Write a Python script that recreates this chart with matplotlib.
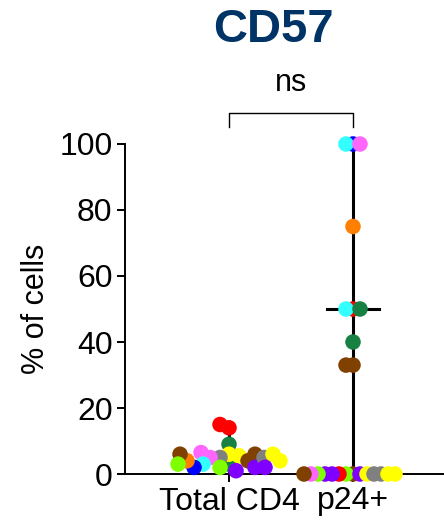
import numpy as np
import matplotlib.pyplot as plt

plt.rcParams['font.family'] = ['Liberation Sans', 'DejaVu Sans']

# data
groups = ['Total CD4', 'p24+']
total_vals = [14, 15, 9, 3, 6, 5, 5.5, 5, 2, 4, 6, 6.5, 3, 1, 2, 2, 5, 4, 6, 6, 2, 4, 3]
total_cols = ['#ff0000', '#ff0000', '#178043', '#178043', '#ffff00', '#808080', '#ffff00',
              '#ff66ff', '#80ff00', '#804000', '#804000', '#ff66ff', '#33ffff', '#8000ff',
              '#8000ff', '#0000ff', '#808080', '#ff8000', '#ffff00', '#804000', '#8000ff',
              '#ffff00', '#80ff00']
p24_vals = [100, 100, 100, 75, 50, 50, 50, 40, 33, 33,
            0, 0, 0, 0, 0, 0, 0, 0, 0, 0, 0, 0, 0, 0]
p24_cols = ['#0000ff', '#33ffff', '#ff66ff', '#ff8000', '#ff0000', '#33ffff', '#178043',
            '#178043', '#804000', '#804000',
            '#804000', '#80ff00', '#8000ff', '#ff0000', '#ffff00', '#8000ff', '#808080',
            '#8000ff', '#808080', '#80ff00', '#ffff00', '#ff66ff', '#ffff00', '#804000']
medians = [4, 50]

fig = plt.figure(figsize=(4.44, 5.21), dpi=100)
ax = fig.add_axes([125 / 444, 47 / 521, 319 / 444, 330 / 521])
ax.set_xlim(-0.839, 1.734)
ax.set_ylim(0, 100)


def swarm(vals, mind=7.0):
    # simple beeswarm in pixel units
    px_x = 124.0
    px_y = 3.3
    placed = []
    offs = []
    for v in vals:
        y = v * px_y
        k = 0
        while True:
            for o in ([0] if k == 0 else [-k, k]):
                if all((o - px) ** 2 + (y - py) ** 2 >= mind ** 2 for px, py in placed):
                    break
            else:
                k += 1
                continue
            break
        placed.append((o, y))
        offs.append(o / px_x)
    return np.array(offs)


# median + range
for i, vals in enumerate([total_vals, p24_vals]):
    ax.plot([i, i], [min(vals), max(vals)], color='black', lw=2.2, zorder=1)
    ax.plot([i - 0.21, i + 0.21], [medians[i], medians[i]], color='black', lw=2.2, zorder=1)

for i, (vals, cols, md) in enumerate([(total_vals, total_cols, 9.5), (p24_vals, p24_cols, 7.0)]):
    ax.scatter(i + swarm(vals, md), vals, s=125, c=cols, linewidths=0, zorder=3, clip_on=False)

ax.spines['top'].set_visible(False)
ax.spines['right'].set_visible(False)
ax.spines['left'].set_linewidth(1.4)
ax.spines['bottom'].set_linewidth(1.4)
ax.set_yticks([0, 20, 40, 60, 80, 100])
ax.set_xticks([0, 1])
ax.set_xticklabels(groups)
ax.tick_params(axis='both', labelsize=23, width=1.4, length=6, pad=3)
ax.set_ylabel('% of cells', fontsize=22, labelpad=6)

# significance bracket
ax.plot([0, 0, 1, 1], [105, 109.5, 109.5, 105], color='black', lw=1, clip_on=False)
ax.text(0.5, 114, 'ns', fontsize=22, ha='center', va='bottom')

fig.text(273 / 444, 1 - 30 / 521, 'CD57', fontsize=34, fontweight='bold',
         color='#003366', ha='center', va='center')

fig.savefig('out.png', dpi=100)
